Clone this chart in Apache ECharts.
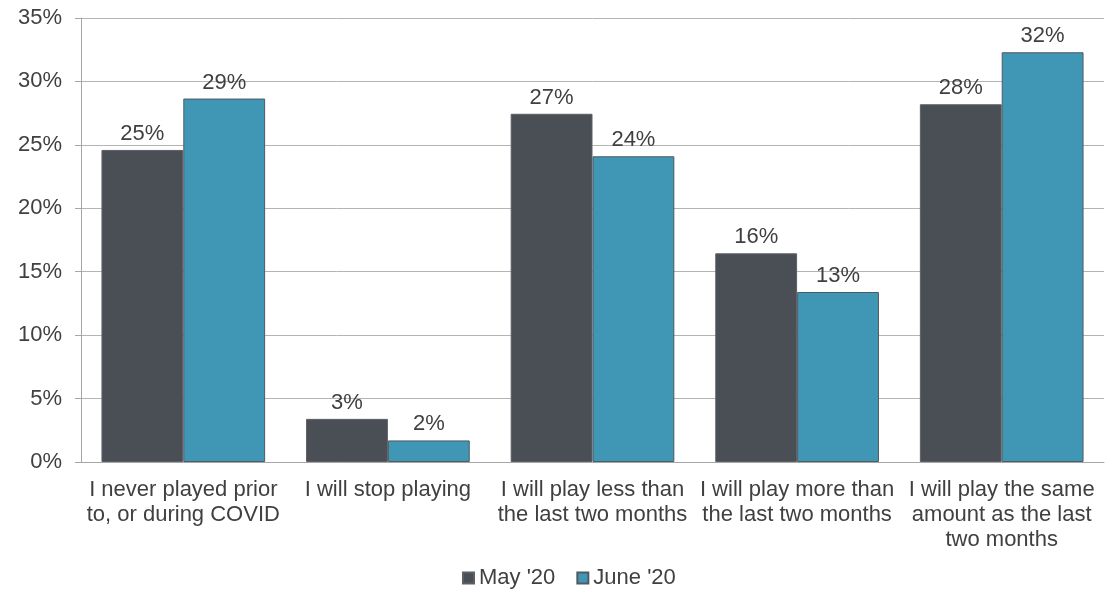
<!DOCTYPE html>
<html lang="en">

<head>
  <meta charset="UTF-8">
  <title>Playing plans</title>
</head>

<body style="margin:0;">
  <div id="main" style="width: 1111px;height:590px;"></div>
  <script src="https://cdn.jsdelivr.net/npm/echarts@6/dist/echarts.min.js"></script>
  <script>
    const categories = [
      'I never played prior\nto, or during COVID',
      'I will stop playing',
      'I will play less than\nthe last two months',
      'I will play more than\nthe last two months',
      'I will play the same\namount as the last\ntwo months'
    ];
    const mayValues = [24.6, 3.4, 27.45, 16.45, 28.2];
    const juneValues = [28.65, 1.7, 24.1, 13.4, 32.3];
    const seriesNames = ["May '20", "June '20"];
    const yTicks = [0, 5, 10, 15, 20, 25, 30, 35];

    const textColor = '#404040';
    const font = 'Liberation Sans, Arial, sans-serif';

    const myChart = echarts.init(document.getElementById('main'));

    const barLabel = {
      show: true,
      position: 'top',
      distance: 5,
      color: textColor,
      fontFamily: font,
      fontSize: 22,
      formatter: (p) => Math.round(p.value) + '%'
    };

    const option = {
      animation: false,
      grid: {
        left: 81,
        right: 7,
        top: 18,
        bottom: 128
      },
      legend: {
        top: 567,
        left: 462,
        padding: 0,
        icon: 'rect',
        itemWidth: 11,
        itemHeight: 11,
        itemGap: 21,
        textStyle: {
          color: textColor,
          fontFamily: font,
          fontSize: 22
        },
        data: seriesNames
      },
      xAxis: {
        type: 'category',
        data: categories,
        axisLine: { lineStyle: { color: '#a6a6a6' } },
        axisTick: { length: 6, lineStyle: { color: '#a6a6a6' } },
        axisLabel: {
          color: textColor,
          fontFamily: font,
          fontSize: 22,
          lineHeight: 25,
          margin: 15,
          interval: 0
        }
      },
      yAxis: {
        type: 'value',
        min: yTicks[0],
        max: yTicks[yTicks.length - 1],
        interval: 5,
        axisLine: { show: true, lineStyle: { color: '#a6a6a6' } },
        axisTick: { show: true, length: 6, lineStyle: { color: '#a6a6a6' } },
        splitLine: { lineStyle: { color: '#b4b4b4' } },
        axisLabel: {
          color: textColor,
          fontFamily: font,
          fontSize: 22,
          margin: 19,
          formatter: '{value}%'
        }
      },
      series: [{
        name: seriesNames[0],
        type: 'bar',
        data: mayValues,
        barGap: '0%',
        barCategoryGap: '20%',
        itemStyle: { color: '#4a4f56', borderColor: '#5c6066', borderWidth: 1 },
        label: barLabel
      }, {
        name: seriesNames[1],
        type: 'bar',
        data: juneValues,
        itemStyle: { color: '#4096b5', borderColor: '#4f5a62', borderWidth: 1 },
        label: barLabel
      }]
    };

    myChart.setOption(option);
  </script>
</body>

</html>
